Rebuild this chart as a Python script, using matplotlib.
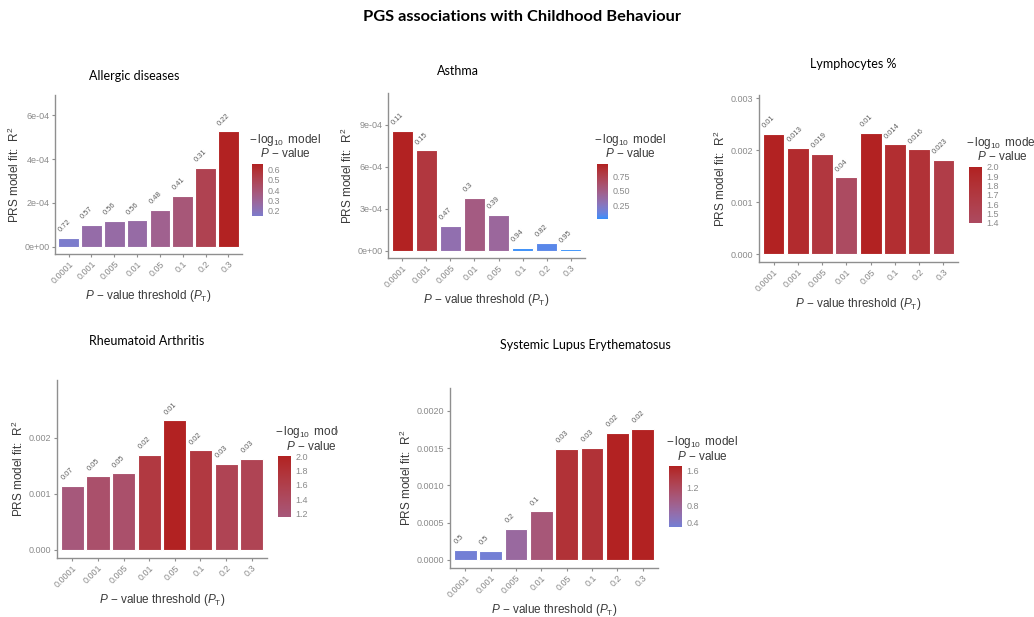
import numpy as np
import matplotlib
matplotlib.use('Agg')
import matplotlib.pyplot as plt
from matplotlib.colors import ListedColormap, to_rgb
from matplotlib.transforms import Bbox, TransformedBbox

# figure size in pixels (dpi 100)
W, H = 1034, 617

thresholds = ['0.0001', '0.001', '0.005', '0.01', '0.05', '0.1', '0.2', '0.3']

allergic_r2 = [0.41e-4, 1.00e-4, 1.18e-4, 1.21e-4, 1.69e-4, 2.33e-4, 3.61e-4, 5.27e-4]
allergic_p = [0.72, 0.57, 0.56, 0.56, 0.48, 0.41, 0.31, 0.22]

asthma_r2 = [8.58e-4, 7.16e-4, 1.78e-4, 3.77e-4, 2.56e-4, 0.19e-4, 0.57e-4, 0.12e-4]
asthma_p = [0.11, 0.15, 0.47, 0.3, 0.39, 0.94, 0.82, 0.95]

lymph_r2 = [2.31e-3, 2.05e-3, 1.93e-3, 1.48e-3, 2.33e-3, 2.11e-3, 2.02e-3, 1.82e-3]
lymph_p = [0.01, 0.013, 0.019, 0.04, 0.01, 0.014, 0.016, 0.023]

ra_r2 = [1.14e-3, 1.31e-3, 1.37e-3, 1.70e-3, 2.31e-3, 1.78e-3, 1.54e-3, 1.63e-3]
ra_p = [0.07, 0.05, 0.05, 0.02, 0.01, 0.02, 0.03, 0.03]

sle_r2 = [0.134e-3, 0.125e-3, 0.42e-3, 0.653e-3, 1.494e-3, 1.503e-3, 1.705e-3, 1.758e-3]
sle_p = [0.5, 0.5, 0.2, 0.1, 0.03, 0.03, 0.02, 0.02]


# ggplot-like gradient dodgerblue -> firebrick, interpolated in Lab space
def srgb_to_lab(rgb):
    c = np.asarray(rgb, dtype=float)
    c = np.where(c <= 0.04045, c / 12.92, ((c + 0.055) / 1.055) ** 2.4)
    M = np.array([[0.4124, 0.3576, 0.1805], [0.2126, 0.7152, 0.0722], [0.0193, 0.1192, 0.9505]])
    xyz = M @ c / np.array([0.95047, 1.0, 1.08883])
    f = np.where(xyz > 0.008856, np.cbrt(xyz), 7.787 * xyz + 16 / 116)
    return np.array([116 * f[1] - 16, 500 * (f[0] - f[1]), 200 * (f[1] - f[2])])


def lab_to_srgb(lab):
    L, a, b = lab
    fy = (L + 16) / 116
    fx = fy + a / 500
    fz = fy - b / 200
    f = np.array([fx, fy, fz])
    xyz = np.where(f ** 3 > 0.008856, f ** 3, (f - 16 / 116) / 7.787) * np.array([0.95047, 1.0, 1.08883])
    Minv = np.array([[3.2406, -1.5372, -0.4986], [-0.9689, 1.8758, 0.0415], [0.0557, -0.2040, 1.0570]])
    c = Minv @ xyz
    c = np.where(c <= 0.0031308, 12.92 * c, 1.055 * np.clip(c, 0, None) ** (1 / 2.4) - 0.055)
    return np.clip(c, 0, 1)


lab_lo = srgb_to_lab(to_rgb('#1E90FF'))
lab_hi = srgb_to_lab(to_rgb('#B22222'))
cmap = ListedColormap([lab_to_srgb(lab_lo + (lab_hi - lab_lo) * t) for t in np.linspace(0, 1, 256)])

plt.rcParams['font.family'] = ['Liberation Sans', 'DejaVu Sans']
plt.rcParams['mathtext.fontset'] = 'custom'
plt.rcParams['mathtext.rm'] = 'Liberation Sans'
plt.rcParams['mathtext.it'] = 'Liberation Sans:italic'

AXIS_GREY = '#8f8f8f'
TICK_GREY = '#8a8a8a'
TEXT_DARK = '#3a3a3a'

fig = plt.figure(figsize=(W / 100, H / 100), dpi=100)


def px_rect(x0, y0, x1, y1):
    return [x0 / W, 1 - y1 / H, (x1 - x0) / W, (y1 - y0) / H]


def draw_panel(rect, title, title_xy, r2, p, yticks, yticklabels, cbar_rect, cbar_ticks, cbar_labels,
               clip_x=None):
    ax = fig.add_axes(px_rect(*rect))
    x = np.arange(len(thresholds))
    vals = -np.log10(np.array(p))
    hi = vals.max()
    ax.bar(x, r2, width=0.9, color=cmap(vals / hi), edgecolor='white', linewidth=0.8)
    ax.set_xlim(-0.6, len(thresholds) - 0.4)
    top = max(r2) * 1.25
    ax.set_ylim(-0.05 * top, 1.05 * top)
    for xi, yi, pi in zip(x, r2, p):
        ax.annotate(f"{pi:g}", (xi, yi), xytext=(-5.0, 3.0), textcoords='offset points',
                    rotation=45, rotation_mode='anchor', ha='left', va='bottom',
                    fontsize=5.4, color='#5f5f5f')
    ax.set_xticks(x)
    ax.set_xticklabels(thresholds, rotation=45, ha='right', rotation_mode='anchor')
    ax.set_yticks(yticks)
    ax.set_yticklabels(yticklabels)
    ax.tick_params(colors=AXIS_GREY, labelcolor=TICK_GREY, labelsize=6.5, length=2.5, width=0.8, pad=1.5)
    for side in ['top', 'right']:
        ax.spines[side].set_visible(False)
    for side in ['left', 'bottom']:
        ax.spines[side].set_color(AXIS_GREY)
        ax.spines[side].set_linewidth(1.0)
    ax.set_xlabel(r'$P$ $-$ value threshold ($P_{\mathrm{T}}$)', fontsize=8.5, color=TEXT_DARK, labelpad=2)
    ax.set_ylabel(r'PRS model fit:  R$^2$', fontsize=8.5, color=TEXT_DARK, labelpad=2)

    fig.text(title_xy[0] / W, 1 - title_xy[1] / H, title, ha='center', va='center',
             fontsize=9, family='Lato', color='black')

    # colour bar
    cax = fig.add_axes(px_rect(*cbar_rect))
    lo = vals.min()
    grad = np.linspace(lo, hi, 256).reshape(-1, 1)
    cax.imshow(grad, cmap=cmap, vmin=0, vmax=hi, origin='lower', extent=[0, 1, lo, hi], aspect='auto')
    cax.set_xticks([])
    cax.set_yticks(cbar_ticks)
    cax.set_yticklabels(cbar_labels)
    cax.yaxis.tick_right()
    cax.tick_params(length=0, labelsize=6.5, labelcolor=TICK_GREY, pad=3)
    for s in cax.spines.values():
        s.set_visible(False)

    cx = cbar_rect[0] + 33
    ty = cbar_rect[1]
    t1 = fig.text(cx / W, 1 - (ty - 24) / H, r'$-\,\log_{10}$ model', ha='center', va='center',
                  fontsize=8.5, color=TEXT_DARK)
    t2 = fig.text(cx / W, 1 - (ty - 10) / H, r'$P$ $-$ value', ha='center', va='center',
                  fontsize=8.5, color=TEXT_DARK)
    if clip_x is not None:
        box = TransformedBbox(Bbox([[0, 0], [clip_x / W, 1]]), fig.transFigure)
        for t in (t1, t2):
            t.set_clip_box(box)
            t.set_clip_on(True)
    return ax


draw_panel((55, 95, 242, 254), 'Allergic diseases', (134, 76), allergic_r2, allergic_p,
           [0, 2e-4, 4e-4, 6e-4], ['0e+00', '2e-04', '4e-04', '6e-04'],
           (252, 164, 263, 216), [0.2, 0.3, 0.4, 0.5, 0.6], ['0.2', '0.3', '0.4', '0.5', '0.6'])

draw_panel((388, 93, 585, 258), 'Asthma', (458, 71), asthma_r2, asthma_p,
           [0, 3e-4, 6e-4, 9e-4], ['0e+00', '3e-04', '6e-04', '9e-04'],
           (597, 164, 608, 219), [0.25, 0.5, 0.75], ['0.25', '0.50', '0.75'])

draw_panel((759, 95, 958, 262), 'Lymphocytes %', (853, 64), lymph_r2, lymph_p,
           [0, 0.001, 0.002, 0.003], ['0.000', '0.001', '0.002', '0.003'],
           (969, 167, 982, 223), [1.4, 1.5, 1.6, 1.7, 1.8, 1.9, 2.0],
           ['1.4', '1.5', '1.6', '1.7', '1.8', '1.9', '2.0'])

draw_panel((57, 380, 267, 558), 'Rheumatoid Arthritis', (147, 341), ra_r2, ra_p,
           [0, 0.001, 0.002], ['0.000', '0.001', '0.002'],
           (278, 456, 291, 517), [1.2, 1.4, 1.6, 1.8, 2.0], ['1.2', '1.4', '1.6', '1.8', '2.0'],
           clip_x=338)

draw_panel((450, 388, 658, 568), 'Systemic Lupus Erythematosus', (585, 345), sle_r2, sle_p,
           [0, 0.0005, 0.001, 0.0015, 0.002], ['0.0000', '0.0005', '0.0010', '0.0015', '0.0020'],
           (669, 466, 682, 527), [0.4, 0.8, 1.2, 1.6], ['0.4', '0.8', '1.2', '1.6'])

fig.text(522 / W, 1 - 17 / H, 'PGS associations with Childhood Behaviour', ha='center', va='center',
         fontsize=11.8, fontweight='bold', family='Lato', color='black')

fig.savefig('out.png', dpi=100)
